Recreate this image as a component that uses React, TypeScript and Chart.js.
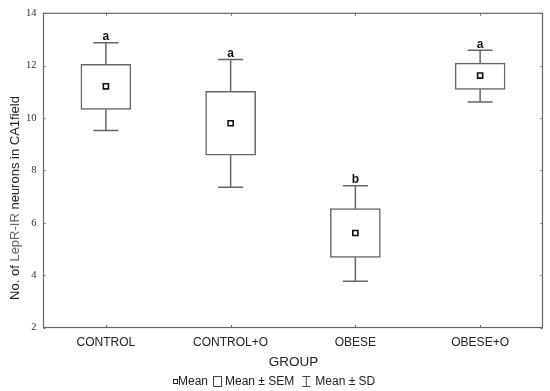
import React, { useEffect, useRef } from "react";
import { Chart, registerables } from "chart.js";

Chart.register(...registerables);

const groups = ["CONTROL", "CONTROL+O", "OBESE", "OBESE+O"];
const means = [11.21, 9.8, 5.61, 11.62];
const semLow = [10.33, 8.58, 4.68, 11.09];
const semHigh = [12.05, 11.02, 6.54, 12.1];
const sdLow = [9.52, 7.36, 3.77, 10.61];
const sdHigh = [12.88, 12.24, 7.41, 12.59];
const letters = ["a", "a", "b", "a"];
const yTickValues = [2, 4, 6, 8, 10, 12, 14];
const yTitleParts = ["No. of ", "LepR-IR", " neurons in CA1field"];
const xTitle = "GROUP";
const legendLabels = ["Mean", "Mean \u00b1 SEM", "Mean \u00b1 SD"];

const LINE = "#666";
const SANS = "'Liberation Sans', Arial, sans-serif";

const extrasPlugin = {
  id: "extras",
  afterDatasetsDraw(chart: any) {
    const ctx = chart.ctx as CanvasRenderingContext2D;
    const x = chart.scales.x;
    const y = chart.scales.y;
    const a = chart.chartArea;
    ctx.save();
    // whiskers
    ctx.strokeStyle = LINE;
    ctx.lineWidth = 1.5;
    groups.forEach((_, i) => {
      const cx = x.getPixelForValue(i);
      const yTop = y.getPixelForValue(sdHigh[i]);
      const yBoxTop = y.getPixelForValue(semHigh[i]);
      const yBoxBot = y.getPixelForValue(semLow[i]);
      const yBot = y.getPixelForValue(sdLow[i]);
      const cap = 12.5;
      ctx.beginPath();
      ctx.moveTo(cx, yTop);
      ctx.lineTo(cx, yBoxTop);
      ctx.moveTo(cx, yBoxBot);
      ctx.lineTo(cx, yBot);
      ctx.moveTo(cx - cap, yTop);
      ctx.lineTo(cx + cap, yTop);
      ctx.moveTo(cx - cap, yBot);
      ctx.lineTo(cx + cap, yBot);
      ctx.stroke();
      // letters
      ctx.fillStyle = "#111";
      ctx.font = `bold 12px ${SANS}`;
      ctx.textAlign = "center";
      ctx.textBaseline = "alphabetic";
      ctx.fillText(letters[i], cx, yTop - 2.5);
    });
    // frame
    ctx.strokeStyle = LINE;
    ctx.lineWidth = 1.2;
    ctx.strokeRect(a.left, a.top, a.right - a.left, a.bottom - a.top);
    // small ticks
    ctx.lineWidth = 1;
    ctx.beginPath();
    groups.forEach((_, i) => {
      const cx = Math.round(x.getPixelForValue(i)) + 0.5;
      ctx.moveTo(cx, a.bottom);
      ctx.lineTo(cx, a.bottom - 2.5);
      ctx.moveTo(cx, a.top);
      ctx.lineTo(cx, a.top + 2.5);
    });
    yTickValues.forEach((v) => {
      const py = Math.round(y.getPixelForValue(v)) + 0.5;
      ctx.moveTo(a.right, py);
      ctx.lineTo(a.right - 2, py);
      ctx.moveTo(a.left, py);
      ctx.lineTo(a.left + 2, py);
    });
    ctx.stroke();

    // y title (rotated, three parts)
    ctx.font = `13px ${SANS}`;
    const widths = yTitleParts.map((p) => ctx.measureText(p).width);
    const total = widths.reduce((s, w) => s + w, 0);
    ctx.translate(19, 198);
    ctx.rotate(-Math.PI / 2);
    ctx.textAlign = "left";
    ctx.textBaseline = "alphabetic";
    let tx = -total / 2;
    yTitleParts.forEach((p, i) => {
      ctx.fillStyle = i === 1 ? "#666" : "#222";
      ctx.fillText(p, tx, 0);
      tx += widths[i];
    });
    ctx.setTransform(1, 0, 0, 1, 0, 0);

    // x title
    ctx.fillStyle = "#222";
    ctx.font = `13.5px ${SANS}`;
    ctx.textAlign = "center";
    ctx.textBaseline = "middle";
    ctx.fillText(xTitle, (a.left + a.right) / 2 + 0.5, 362.5);

    // legend
    const ly = 382;
    ctx.font = `12px ${SANS}`;
    ctx.textAlign = "left";
    ctx.fillStyle = "#222";
    // mean marker
    ctx.strokeStyle = "#222";
    ctx.lineWidth = 1;
    ctx.strokeRect(173.5, ly - 2.5, 4, 4);
    ctx.fillText(legendLabels[0], 178, ly);
    const w0 = ctx.measureText(legendLabels[0]).width;
    // sem box
    const bx = 178 + w0 + 5;
    ctx.strokeStyle = "#444";
    ctx.strokeRect(bx + 0.5, ly - 5.5, 8, 10);
    ctx.fillText(legendLabels[1], bx + 12, ly);
    const w1 = ctx.measureText(legendLabels[1]).width;
    // sd whisker glyph
    const gx = bx + 12 + w1 + 8;
    ctx.beginPath();
    ctx.moveTo(gx, ly - 5.5);
    ctx.lineTo(gx + 8, ly - 5.5);
    ctx.moveTo(gx + 4, ly - 5.5);
    ctx.lineTo(gx + 4, ly + 4.5);
    ctx.moveTo(gx, ly + 4.5);
    ctx.lineTo(gx + 8, ly + 4.5);
    ctx.stroke();
    ctx.fillText(legendLabels[2], gx + 13, ly);
    ctx.restore();
  },
};

export default function App() {
  const ref = useRef<HTMLCanvasElement | null>(null);
  useEffect(() => {
    if (!ref.current) return;
    const chart = new Chart(ref.current, {
      type: "bar",
      data: {
        labels: groups,
        datasets: [
          {
            type: "line",
            label: "Mean",
            data: means,
            showLine: false,
            pointStyle: "rect",
            pointRadius: 3.6,
            pointBackgroundColor: "#fff",
            pointBorderColor: "#111",
            pointBorderWidth: 1.6,
            order: 0,
          } as any,
          {
            type: "bar",
            label: "Mean \u00b1 SEM",
            data: groups.map((_, i) => [semLow[i], semHigh[i]]),
            backgroundColor: "#fff",
            borderColor: LINE,
            borderWidth: 1.5,
            borderSkipped: false,
            barThickness: 50,
            order: 1,
          } as any,
        ],
      },
      options: {
        responsive: false,
        animation: false,
        events: [],
        layout: { padding: { top: 8.5, right: 7.5, bottom: 40, left: 0 } },
        plugins: {
          legend: { display: false },
          tooltip: { enabled: false },
          title: { display: false },
        },
        scales: {
          x: {
            type: "category",
            offset: true,
            grid: { display: false, drawTicks: false },
            border: { display: false },
            ticks: {
              color: "#222",
              font: { family: SANS, size: 12 },
              padding: 8,
              maxRotation: 0,
            },
            afterFit: (s: any) => {
              s.height = 23.5;
            },
          },
          y: {
            min: 2,
            max: 14,
            grid: { display: false, drawTicks: false },
            border: { display: false },
            afterBuildTicks: (s: any) => {
              s.ticks = yTickValues.map((v) => ({ value: v }));
            },
            ticks: {
              color: "#333",
              font: { family: "'Liberation Serif', 'Times New Roman', serif", size: 10.5 },
              padding: 7,
            },
            afterFit: (s: any) => {
              s.width = 43.5;
            },
          },
        },
      },
      plugins: [extrasPlugin],
    });
    return () => chart.destroy();
  }, []);
  return (
    <div style={{ position: "fixed", left: 0, top: 0, width: 550, height: 391, background: "#fff" }}>
      <canvas ref={ref} width={550} height={391} />
    </div>
  );
}
